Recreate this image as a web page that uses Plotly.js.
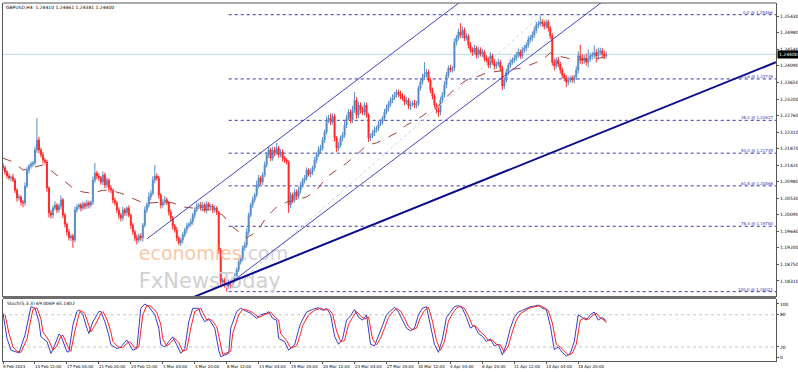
<!DOCTYPE html>
<html><head><meta charset="utf-8">
<script src="https://cdn.plot.ly/plotly-3.0.1.min.js"></script>
<style>html,body{margin:0;padding:0;background:#fff}#chart{width:798px;height:372px}</style>
</head><body><div id="chart"></div>
<script>
// ---- price data (H4 bars) ----
const firstOpen = 1.2140;
const closes = [
1.2135,1.2124,1.2113,1.2108,1.2110,1.2102,1.2075,1.2054,1.2057,1.2043,
1.2041,1.2086,1.2129,1.2140,1.2145,1.2148,1.2183,1.2210,1.2183,1.2170,
1.2156,1.2151,1.2081,1.2014,1.2008,1.2027,1.2035,1.2022,1.2032,1.2049,
1.2008,1.1984,1.1963,1.1947,1.1952,1.1941,1.2022,1.2030,1.2035,1.2027,
1.2038,1.2032,1.2041,1.2035,1.2043,1.2102,1.2121,1.2113,1.2108,1.2097,
1.2116,1.2089,1.2102,1.2081,1.2075,1.2049,1.2041,1.2022,1.2008,1.2000,
1.2022,1.2014,1.2027,1.2008,1.1981,1.1963,1.1947,1.1941,1.1952,1.1947,
1.1981,1.2022,1.2035,1.2057,1.2067,1.2102,1.2113,1.2108,1.2062,1.2035,
1.2043,1.2049,1.2041,1.2016,1.2000,1.1979,1.1968,1.1947,1.1933,1.1941,
1.1955,1.1968,1.1979,1.1984,1.1990,1.2008,1.2022,1.2032,1.2035,1.2027,
1.2035,1.2022,1.2038,1.2030,1.2032,1.2022,1.2027,1.2016,1.1914,1.1828,
1.1834,1.1823,1.1818,1.1828,1.1820,1.1834,1.1844,1.1861,1.1882,1.1893,
1.1920,1.1928,1.1963,1.2008,1.2035,1.2049,1.2062,1.2089,1.2108,1.2097,
1.2116,1.2143,1.2170,1.2183,1.2161,1.2183,1.2175,1.2188,1.2170,1.2178,
1.2161,1.2156,1.2151,1.2035,1.2062,1.2049,1.2070,1.2059,1.2075,1.2089,
1.2102,1.2108,1.2129,1.2118,1.2124,1.2135,1.2156,1.2170,1.2183,1.2188,
1.2210,1.2231,1.2264,1.2269,1.2258,1.2274,1.2215,1.2188,1.2196,1.2215,
1.2223,1.2250,1.2269,1.2285,1.2264,1.2290,1.2317,1.2277,1.2304,1.2290,
1.2285,1.2304,1.2277,1.2215,1.2221,1.2229,1.2237,1.2242,1.2253,1.2258,
1.2269,1.2285,1.2296,1.2307,1.2317,1.2323,1.2331,1.2339,1.2333,1.2328,
1.2323,1.2312,1.2317,1.2301,1.2307,1.2309,1.2304,1.2307,1.2350,1.2366,
1.2379,1.2387,1.2393,1.2371,1.2344,1.2328,1.2304,1.2290,1.2285,1.2317,
1.2331,1.2358,1.2384,1.2403,1.2398,1.2403,1.2473,1.2484,1.2500,1.2492,
1.2505,1.2484,1.2489,1.2465,1.2452,1.2446,1.2457,1.2438,1.2452,1.2441,
1.2446,1.2430,1.2425,1.2411,1.2436,1.2419,1.2409,1.2414,1.2419,1.2403,
1.2355,1.2371,1.2393,1.2411,1.2419,1.2425,1.2430,1.2438,1.2446,1.2436,
1.2452,1.2457,1.2465,1.2479,1.2484,1.2492,1.2505,1.2519,1.2522,1.2527,
1.2522,1.2516,1.2527,1.2511,1.2489,1.2419,1.2409,1.2425,1.2414,1.2398,
1.2384,1.2376,1.2366,1.2371,1.2376,1.2371,1.2379,1.2398,1.2436,1.2430,
1.2425,1.2430,1.2419,1.2428,1.2436,1.2438,1.2444,1.2436,1.2446,1.2449,
1.2441,1.2436,1.2440];
// upper / lower wick lengths in pips
const hiWickPips = [
8,6,5,7,4,9,6,5,8,4, 6,10,8,5,7,6,9,59,8,6, 7,5,6,4,8,6,10,5,7,12, 5,6,4,8,5,6,9,7,5,6,
7,5,8,6,4,10,27,6,8,5, 9,6,7,5,8,4,6,5,7,6, 8,6,5,7,4,6,5,8,6,7, 6,9,7,12,8,10,30,7,6,5,
8,10,6,5,7,6,5,8,4,6, 7,6,8,5,9,6,7,10,6,8, 9,6,8,5,7,6,8,5,4,6, 5,6,4,7,5,6,8,6,9,7,
6,8,10,7,6,9,5,12,8,6, 7,9,8,10,6,9,8,14,6,8, 7,6,5,4,8,6,9,7,10,8, 6,8,7,5,9,6,8,7,10,9,
8,7,10,9,12,8,6,5,9,7, 8,10,9,8,7,12,22,8,9,7, 10,8,6,5,7,8,9,6,8,7, 6,8,9,7,8,10,8,7,6,9,
8,7,9,6,8,7,9,8,6,10, 9,32,8,6,5,7,6,5,8,9, 8,10,9,7,8,6,10,8,9,24, 10,7,9,6,8,7,9,6,8,7,
9,6,8,7,10,6,8,7,9,6, 7,8,9,6,8,7,9,8,10,7, 8,9,7,10,8,9,10,8,9,20, 8,9,7,6,5,8,9,7,8,6,
7,6,8,9,7,8,6,10,12,30, 10,9,12,25,8,9,20,10,12,9, 8,10,7];
const loWickPips = [
6,8,7,5,9,6,8,10,7,9, 12,8,6,9,7,8,6,8,9,7, 8,7,10,12,9,8,6,9,7,8, 8,9,10,7,9,21,6,8,7,9,
6,8,7,9,6,8,7,9,8,7, 8,9,7,10,8,9,7,8,10,9, 7,8,9,6,10,8,9,12,7,8, 10,6,8,7,9,6,8,7,10,9,
7,8,6,9,8,10,7,9,6,8, 9,7,8,6,7,8,9,6,8,7, 8,7,9,8,6,9,7,8,10,12, 9,10,16,8,9,7,8,9,6,7,
9,8,7,9,6,8,7,6,9,8, 8,6,7,9,8,7,9,6,8,7, 9,8,7,21,8,9,7,10,8,9, 7,9,8,6,9,8,7,9,6,8,
7,8,6,9,8,7,9,10,8,6, 9,7,8,6,9,8,7,10,8,9, 8,9,7,10,8,6,9,7,8,6, 7,8,6,9,7,8,6,7,8,9,
8,9,7,8,10,7,8,9,7,8, 7,8,9,6,8,9,7,8,13,9, 8,7,9,8,6,7,8,9,7,8, 9,8,7,9,8,10,7,9,8,7,
8,9,7,8,9,7,10,8,7,9, 11,8,7,9,8,7,9,8,7,8, 7,8,9,7,8,9,7,8,9,7, 8,9,7,10,8,9,12,8,9,10,
9,8,14,9,8,7,9,8,10,15, 12,10,9,14,8,10,9,18,10,9, 8,9,7];

// ---- axis text ----
const xTickBars = [0,16,32,48,64,80,96,112,128,144,160,176,192,208,224,240,256,272,288];
const xTickLabels = ["9 Feb 2023","14 Feb 12:00","17 Feb 04:00","21 Feb 20:00","24 Feb 12:00","1 Mar 04:00","3 Mar 20:00","8 Mar 12:00","13 Mar 04:00","15 Mar 20:00","20 Mar 12:00","23 Mar 04:00","27 Mar 20:00","30 Mar 12:00","4 Apr 04:00","6 Apr 20:00","11 Apr 12:00","14 Apr 04:00","18 Apr 20:00"];
const priceTicks = [1.25430,1.24980,1.24540,1.24090,1.23650,1.23200,1.22760,1.22310,1.21870,1.21420,1.20980,1.20530,1.20090,1.19640,1.19200,1.18750,1.18310,1.17860];
const stochTicks = [0,20,80,100];
const stochLevels = [20,80];
const lastPrice = 1.24400;

// ---- moving average (read) ----
const maBars = [0,5,10,15,20,25,30,35,40,45,50,55,60,65,70,75,80,85,90,95,100,105,110,115,120,122,127,132,137,142,147,152,157,162,167,172,177,182,187,192,197,202,207,212,217,222,227,232,237,242,247,252,260,264,270,274,280,284,290,296,302];
const maValues = [1.2161,1.2151,1.2129,1.2135,1.2143,1.2124,1.2102,1.2081,1.2070,1.2067,1.2075,1.2073,1.2065,1.2054,1.2041,1.2041,1.2043,1.2041,1.2030,1.2027,1.2022,1.2022,1.2008,1.1976,1.1955,1.1947,1.1963,1.2003,1.2030,1.2043,1.2049,1.2057,1.2075,1.2110,1.2129,1.2148,1.2170,1.2196,1.2202,1.2215,1.2229,1.2250,1.2264,1.2282,1.2296,1.2325,1.2352,1.2371,1.2379,1.2390,1.2395,1.2398,1.2403,1.2411,1.2425,1.2444,1.2433,1.2428,1.2425,1.2428,1.2433];

// ---- stochastic (read) ----
const stochKBars = [0,2,4,6,8,11,13,14,16,18,19,22,24,26,28,29,32,33,35,37,38,40,42,43,45,48,49,51,53,54,57,59,62,63,65,67,69,71,73,76,78,79,81,83,85,87,89,91,93,95,98,99,101,103,104,106,108,109,113,114,117,119,122,124,127,129,132,133,135,137,138,141,143,146,148,149,152,155,158,160,162,164,166,168,170,172,174,176,178,180,182,184,186,188,190,192,194,196,198,200,202,204,206,208,210,212,214,216,218,220,222,224,226,228,230,232,234,236,238,240,242,244,246,248,250,252,254,256,258,260,262,264,266,268,270,272,274,276,278,280,282,284,286,288,290,292,294,296,298,300,302];
const stochKValues = [83,36,14,11,9,42,80,95,92,67,39,30,8,24,44,41,11,11,61,86,89,80,55,45,67,86,86,67,42,24,17,20,33,27,14,17,92,100,95,80,55,24,20,30,39,24,8,17,67,92,92,80,67,73,67,55,14,2,8,55,86,92,86,83,73,80,83,86,73,70,36,30,14,24,52,64,85,90,93,88,92,80,40,25,35,70,78,90,75,70,80,25,22,40,60,80,88,94,85,70,55,50,55,80,92,95,60,25,10,35,75,85,95,97,92,75,55,60,45,40,30,35,22,25,5,25,55,75,85,88,92,95,96,98,92,90,60,15,20,10,3,8,30,80,75,70,80,85,70,75,69];
const stochDBars = [1,3,5,7,9,12,14,15,17,19,20,23,25,27,29,30,33,34,36,38,39,41,43,44,46,49,50,52,54,55,58,60,63,64,66,68,70,72,74,77,79,80,82,84,86,88,90,92,94,96,99,100,102,104,105,107,109,110,114,115,118,120,123,125,128,130,133,134,136,138,139,142,144,147,149,150,153,156,159,161,163,165,167,169,171,173,175,177,179,181,183,185,187,189,191,193,195,197,199,201,203,205,207,209,211,213,215,217,219,221,223,225,227,229,231,233,235,237,239,241,243,245,247,249,251,253,255,257,259,261,263,265,267,269,271,273,275,277,279,281,283,285,287,289,291,293,295,297,299,301,302];
const stochDValues = [80,45,20,12,10,35,72,90,93,72,48,32,14,22,40,42,16,12,50,80,88,82,60,48,60,82,86,72,48,30,19,19,30,28,18,20,80,97,96,84,62,35,22,28,36,28,12,15,55,86,92,84,70,71,68,58,22,6,12,45,80,90,88,84,75,78,82,85,76,70,45,32,18,22,45,60,80,88,92,89,90,82,50,30,32,62,75,86,78,72,76,35,24,36,55,75,85,92,87,74,58,52,55,75,88,94,68,32,14,30,68,82,92,96,92,78,60,58,48,42,32,33,25,24,10,22,48,70,82,87,91,94,96,97,93,88,65,25,20,12,5,8,25,70,74,71,78,83,74,70,65];

// ---- drawn objects (bar index, price) ----
const fibPercents = ["0.0","23.6","38.2","50.0","61.8","76.4","100.0"];
const fibPrices = [1.25466,1.23739,1.22627,1.21745,1.20866,1.19780,1.18023];
const fibStartBar = 113;
const fibDiagBars = [113,270];
const fibDiagPrices = [1.18023,1.25466];
const chanUpperBars = [72,240];
const chanUpperPrices = [1.1944,1.2626];
const chanLowerBars = [112,302];
const chanLowerPrices = [1.1818,1.2589];
const trendBars = [95,387];
const trendPrices = [1.1787,1.2419];

// ---- build OHLC ----
const idx = closes.map((_, i) => i);
const opens = closes.map((c, i) => i === 0 ? firstOpen : closes[i - 1]);
const highs = closes.map((c, i) => Math.max(opens[i], c) + hiWickPips[i] / 10000);
const lows = closes.map((c, i) => Math.min(opens[i], c) - loWickPips[i] / 10000);

const XMAX = 387;
const FONT = 'DejaVu Sans';

const traces = [
  // watermark, drawn first so that it sits behind the candles
  {type:'scatter', mode:'text', x:[68], y:[1.1901], xaxis:'x', yaxis:'y', hoverinfo:'skip',
   text:['<span style="color:#f8c8a6">economies</span><span style="color:#d2d2d2">.com</span>'],
   textposition:'middle right', textfont:{family:FONT, size:19, color:'#f8c8a6'}},
  {type:'scatter', mode:'text', x:[68], y:[1.1825], xaxis:'x', yaxis:'y', hoverinfo:'skip',
   text:['FxNewsToday'], textposition:'middle right', textfont:{family:FONT, size:21, color:'#d0d0d0'}},
  {type:'candlestick', x:idx, open:opens, high:highs, low:lows, close:closes,
   xaxis:'x', yaxis:'y', hoverinfo:'skip', whiskerwidth:0,
   increasing:{line:{color:'#5a8fc8', width:1}, fillcolor:'#2d6db3'},
   decreasing:{line:{color:'#ff2a2a', width:1}, fillcolor:'#ff0000'}},
  {type:'scatter', mode:'lines', x:maBars, y:maValues, xaxis:'x', yaxis:'y', hoverinfo:'skip',
   line:{color:'#a5403a', width:1, dash:'dash'}},
  {type:'scatter', mode:'lines', x:fibDiagBars, y:fibDiagPrices, xaxis:'x', yaxis:'y', hoverinfo:'skip',
   line:{color:'#cdd3ea', width:1, dash:'dot'}},
  {type:'scatter', mode:'lines', x:chanUpperBars, y:chanUpperPrices, xaxis:'x', yaxis:'y', hoverinfo:'skip',
   line:{color:'#4646c4', width:1}},
  {type:'scatter', mode:'lines', x:chanLowerBars, y:chanLowerPrices, xaxis:'x', yaxis:'y', hoverinfo:'skip',
   line:{color:'#4646c4', width:1}},
  {type:'scatter', mode:'lines', x:trendBars, y:trendPrices, xaxis:'x', yaxis:'y', hoverinfo:'skip',
   line:{color:'#0c0c8e', width:2}},
  {type:'scatter', mode:'lines', x:stochKBars, y:stochKValues, xaxis:'x', yaxis:'y2', hoverinfo:'skip',
   line:{color:'#3c3cc8', width:1}},
  {type:'scatter', mode:'lines', x:stochDBars, y:stochDValues, xaxis:'x', yaxis:'y2', hoverinfo:'skip',
   line:{color:'#ff2020', width:1}}
];

const mainBottom = 0.1788;
const shapes = [];
fibPrices.forEach(p => shapes.push({type:'line', layer:'below', xref:'x', yref:'y', x0:fibStartBar, x1:XMAX, y0:p, y1:p,
  line:{color:'#3434b4', width:1, dash:'dot'}}));
shapes.push({type:'line', layer:'below', xref:'x', yref:'y', x0:0, x1:XMAX, y0:lastPrice, y1:lastPrice,
  line:{color:'#b6dbe6', width:1}});
stochLevels.forEach(v => shapes.push({type:'line', layer:'below', xref:'x', yref:'y2', x0:0, x1:XMAX, y0:v, y1:v,
  line:{color:'#c4c4c4', width:1, dash:'dot'}}));
shapes.push({type:'line', xref:'paper', yref:'paper', x0:0, x1:1, y0:1, y1:1, line:{color:'#555', width:1}});
shapes.push({type:'line', xref:'paper', yref:'paper', x0:0, x1:1, y0:0.1774, y1:0.1774, line:{color:'#6e6e6e', width:3}});

const annotations = [];
fibPercents.forEach((pct, i) => annotations.push({xref:'x', yref:'y', x:XMAX - 1, y:fibPrices[i],
  xanchor:'right', yanchor:'bottom', showarrow:false, text:pct + ' @ ' + fibPrices[i].toFixed(5),
  font:{family:FONT, size:4, color:'#3434b4'}, borderpad:0, yshift:-1}));
xTickBars.forEach((b, i) => annotations.push({xref:'x', yref:'paper', x:b, y:0, xanchor:'left', yanchor:'top',
  showarrow:false, text:xTickLabels[i], font:{family:FONT, size:4, color:'#000'}, borderpad:0, yshift:-2, xshift:-1}));
annotations.push({xref:'paper', yref:'paper', x:0.002, y:0.997, xanchor:'left', yanchor:'top', showarrow:false,
  text:'GBPUSD,H4  1.24410 1.24461 1.24381 1.24400', font:{family:FONT, size:4.5, color:'#000'}, borderpad:0});
annotations.push({xref:'paper', yref:'paper', x:0.004, y:0.170, xanchor:'left', yanchor:'top', showarrow:false,
  text:'Stoch(5,3,3) 69.0069 65.1402', font:{family:FONT, size:4.5, color:'#000'}, borderpad:0});
annotations.push({xref:'paper', yref:'y', x:1, y:lastPrice, xanchor:'left', yanchor:'middle', showarrow:false,
  text:'1.24400', bgcolor:'#000', font:{family:FONT, size:4.5, color:'#fff'}, borderpad:1, xshift:1});

const layout = {
  width:798, height:372, margin:{l:3, r:22, t:3, b:11}, showlegend:false,
  paper_bgcolor:'#fff', plot_bgcolor:'#fff',
  font:{family:FONT, size:4.5, color:'#000'},
  xaxis:{range:[0, XMAX], anchor:'y2', showgrid:false, zeroline:false, showline:true, linecolor:'#555', linewidth:1,
    tickmode:'array', tickvals:xTickBars, showticklabels:false, ticks:'outside', ticklen:2, tickcolor:'#555',
    rangeslider:{visible:false}, fixedrange:true},
  yaxis:{domain:[mainBottom, 1], range:[1.1788, 1.2578], side:'right', anchor:'x', showgrid:false, zeroline:false,
    showline:true, mirror:true, linecolor:'#555', linewidth:1, tickmode:'array', tickvals:priceTicks,
    ticktext:priceTicks.map(v => v.toFixed(5)), ticks:'outside', ticklen:2, tickcolor:'#555',
    tickfont:{family:FONT, size:4.5, color:'#000'}, fixedrange:true},
  yaxis2:{domain:[0, 0.1732], range:[-6.1, 109.3], side:'right', anchor:'x', showgrid:false, zeroline:false,
    showline:true, mirror:true, linecolor:'#555', linewidth:1, tickmode:'array', tickvals:stochTicks,
    ticks:'outside', ticklen:2, tickcolor:'#555', tickfont:{family:FONT, size:4.5, color:'#000'}, fixedrange:true},
  shapes:shapes, annotations:annotations
};

Plotly.newPlot('chart', traces, layout, {staticPlot:true, displayModeBar:false});
</script></body></html>
